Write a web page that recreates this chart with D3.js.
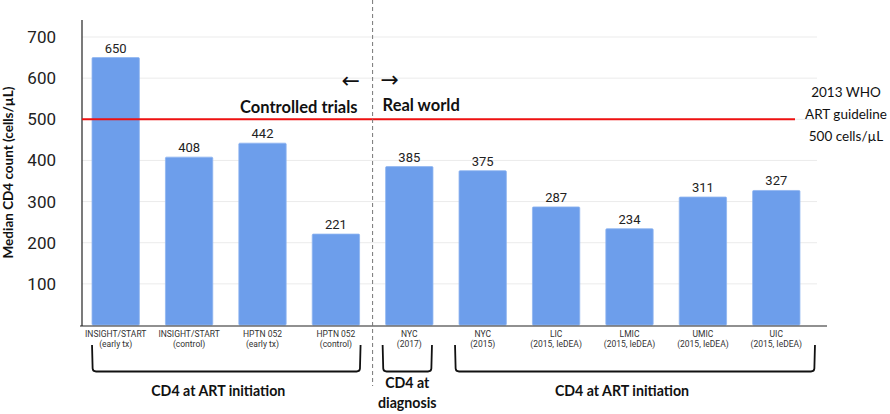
<!DOCTYPE html>
<html>
<head>
<meta charset="utf-8">
<script src="https://cdn.jsdelivr.net/npm/d3@7"></script>
<style>
  body { margin: 0; background: #fff; }
  svg { display: block; }
</style>
</head>
<body>
<svg id="chart" width="890" height="414"></svg>
<script>
// ---- data ----
const categoriesLine1 = ["INSIGHT/START", "INSIGHT/START", "HPTN 052", "HPTN 052", "NYC", "NYC", "LIC", "LMIC", "UMIC", "UIC"];
const categoriesLine2 = ["(early tx)", "(control)", "(early tx)", "(control)", "(2017)", "(2015)", "(2015, IeDEA)", "(2015, IeDEA)", "(2015, IeDEA)", "(2015, IeDEA)"];
const medianCD4 = [650, 408, 442, 221, 385, 375, 287, 234, 311, 327];
const yTicks = [100, 200, 300, 400, 500, 600, 700];
const guidelineValue = 500;
const guidelineLabel = ["2013 WHO", "ART guideline", "500 cells/\u00B5L"];
const groupFirst = [0, 4, 5];
const groupLast = [3, 4, 9];
const groupLabels = [["CD4 at ART initiation"], ["CD4 at", "diagnosis"], ["CD4 at ART initiation"]];
const yTitle = "Median CD4 count (cells/\u00B5L)";
const leftRegion = "Controlled trials";
const rightRegion = "Real world";

// ---- layout ----
const svg = d3.select("#chart");
const ids = d3.range(medianCD4.length);
const x = d3.scaleBand().domain(ids).range([79, 813]).paddingInner(0.355).paddingOuter(0.1775);
const y = d3.scaleLinear().domain([0, 700]).range([325, 37]);
const axisX = 82;
const boldFont = "Lato, 'Open Sans', sans-serif";
const tickFont = "Roboto, 'Liberation Sans', sans-serif";

// gridlines
svg.append("g").selectAll("line").data(yTicks).join("line")
  .attr("x1", axisX).attr("x2", 817)
  .attr("y1", d => y(d)).attr("y2", d => y(d))
  .attr("stroke", "#ebebeb").attr("stroke-width", 1);

// y axis (labels only, via d3 axis)
const yAxis = svg.append("g").attr("transform", `translate(${axisX},0)`)
  .call(d3.axisLeft(y).tickValues(yTicks).tickSize(0).tickPadding(26));
yAxis.select(".domain").remove();
yAxis.selectAll("text").attr("font-family", tickFont).attr("font-size", 17).attr("fill", "#222");

// bars
svg.append("g").selectAll("rect").data(ids).join("rect")
  .attr("x", i => x(i)).attr("width", x.bandwidth())
  .attr("y", i => y(medianCD4[i])).attr("height", i => y(0) - y(medianCD4[i]))
  .attr("fill", "#6d9eeb").attr("stroke", "#8fb5f0").attr("stroke-width", 0.8).attr("rx", 1);

// value labels
svg.append("g").selectAll("text").data(ids).join("text")
  .attr("x", i => x(i) + x.bandwidth() / 2).attr("y", i => y(medianCD4[i]) - 5)
  .attr("text-anchor", "middle").attr("font-family", tickFont).attr("font-size", 13).attr("fill", "#222")
  .text(i => medianCD4[i]);

// axis lines
svg.append("line").attr("x1", axisX).attr("x2", axisX).attr("y1", 20).attr("y2", y(0) + 1)
  .attr("stroke", "#222").attr("stroke-width", 1.2);
svg.append("line").attr("x1", 80).attr("x2", 827).attr("y1", y(0) + 1).attr("y2", y(0) + 1)
  .attr("stroke", "#222").attr("stroke-width", 1.2);

// x labels
const xl = svg.append("g").selectAll("text").data(ids).join("text")
  .attr("text-anchor", "middle").attr("font-family", tickFont).attr("font-size", 8.5).attr("fill", "#333");
xl.append("tspan").attr("x", i => x(i) + x.bandwidth() / 2).attr("y", 337).text(i => categoriesLine1[i]);
xl.append("tspan").attr("x", i => x(i) + x.bandwidth() / 2).attr("y", 347).text(i => categoriesLine2[i]);

// guideline
svg.append("line").attr("x1", axisX).attr("x2", 795)
  .attr("y1", y(guidelineValue)).attr("y2", y(guidelineValue))
  .attr("stroke", "#ee1111").attr("stroke-width", 2);
svg.append("g").selectAll("text").data(guidelineLabel).join("text")
  .attr("x", 846).attr("y", (d, i) => 97 + i * 22)
  .attr("text-anchor", "middle").attr("font-family", boldFont).attr("font-size", 13.5).attr("fill", "#111")
  .text(d => d);

// divider
const divX = (x(3) + x.bandwidth() + x(4)) / 2;
svg.append("line").attr("x1", divX).attr("x2", divX).attr("y1", 0).attr("y2", 386)
  .attr("stroke", "#777").attr("stroke-width", 1).attr("stroke-dasharray", "4,3");

// region labels
svg.append("text").attr("x", divX - 22).attr("y", 88).attr("text-anchor", "middle")
  .attr("font-family", "'DejaVu Sans', sans-serif").attr("font-size", 22).attr("fill", "#111").text("\u2190");
svg.append("text").attr("x", divX + 17).attr("y", 87).attr("text-anchor", "middle")
  .attr("font-family", "'DejaVu Sans', sans-serif").attr("font-size", 22).attr("fill", "#111").text("\u2192");
svg.append("text").attr("x", divX - 15).attr("y", 113).attr("text-anchor", "end")
  .attr("font-family", boldFont).attr("font-weight", "bold").attr("font-size", 16.5).attr("fill", "#111").text(leftRegion);
svg.append("text").attr("x", divX + 10).attr("y", 111).attr("text-anchor", "start")
  .attr("font-family", boldFont).attr("font-weight", "bold").attr("font-size", 16.5).attr("fill", "#111").text(rightRegion);

// brackets
const bracketPad = [[0, 1], [-3, -1], [-4, 15]];
const labelShift = [-8, 0, -13];
const labelY = [[396], [388, 408], [396]];
groupFirst.forEach((f, g) => {
  const l = x(f) + bracketPad[g][0];
  const r = x(groupLast[g]) + x.bandwidth() + bracketPad[g][1];
  const top = 345, bot = 371.5, c = 3;
  svg.append("path")
    .attr("d", `M${l},${top} L${l + 0.6},${bot - c} Q${l + 0.8},${bot} ${l + c + 1},${bot} L${r - c - 1},${bot} Q${r - 0.8},${bot} ${r - 0.6},${bot - c} L${r},${top}`)
    .attr("fill", "none").attr("stroke", "#111").attr("stroke-width", 1.8);
  const cx = (l + r) / 2 + labelShift[g];
  groupLabels[g].forEach((t, k) => {
    svg.append("text").attr("x", cx).attr("y", labelY[g][k]).attr("text-anchor", "middle")
      .attr("font-family", boldFont).attr("font-weight", "bold").attr("font-size", 14.2).attr("fill", "#111").text(t);
  });
});

// y title
svg.append("text").attr("transform", `translate(13,${(85 + 260) / 2}) rotate(-90)`)
  .attr("text-anchor", "middle").attr("font-family", boldFont).attr("font-weight", "bold")
  .attr("font-size", 13.5).attr("fill", "#111").text(yTitle);
</script>
</body>
</html>
